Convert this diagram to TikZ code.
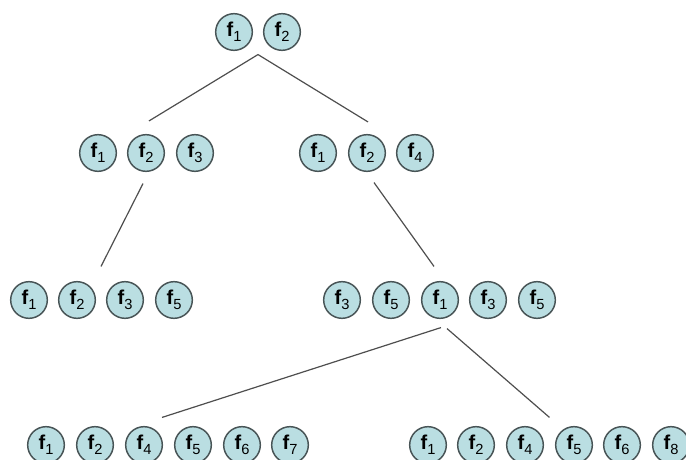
\documentclass[tikz,border=0pt]{standalone}
\usepackage{fontspec}
\setmainfont{Liberation Sans}
\usetikzlibrary{calc}

\definecolor{featfill}{RGB}{186,222,226}
\definecolor{featline}{RGB}{72,84,86}
\definecolor{edgeline}{RGB}{78,78,78}

% feature label: bold f with its index
\newcommand{\feat}[1]{{\fontsize{15}{15}\selectfont\bfseries f}\raisebox{-0.7ex}{\fontsize{11}{11}\selectfont #1}}

\tikzset{
	featnode/.style={circle, draw=featline, line width=1.1pt, fill=featfill,
		minimum size=27.5pt, inner sep=0pt},
	edge/.style={draw=edgeline, line width=0.9pt}
}

\begin{document}
\begin{tikzpicture}[x=0.75pt, y=-0.75pt]
		\useasboundingbox (0,0) rectangle (686,460);

		% root
		\node[featnode] (a1) at (234,32) {\feat{1}};
		\node[featnode] (a2) at (282,32) {\feat{2}};

		% second level
		\node[featnode] (b1) at ( 98,153) {\feat{1}};
		\node[featnode] (b2) at (146,153) {\feat{2}};
		\node[featnode] (b3) at (195,153) {\feat{3}};

		\node[featnode] (c1) at (318,153) {\feat{1}};
		\node[featnode] (c2) at (367,153) {\feat{2}};
		\node[featnode] (c3) at (415,153) {\feat{4}};

		% third level
		\node[featnode] (d1) at ( 29,300) {\feat{1}};
		\node[featnode] (d2) at ( 77,300) {\feat{2}};
		\node[featnode] (d3) at (125,300) {\feat{3}};
		\node[featnode] (d4) at (174,300) {\feat{5}};

		\node[featnode] (e1) at (342,300) {\feat{3}};
		\node[featnode] (e2) at (391,300) {\feat{5}};
		\node[featnode] (e3) at (440,300) {\feat{1}};
		\node[featnode] (e4) at (488,300) {\feat{3}};
		\node[featnode] (e5) at (537,300) {\feat{5}};

		% leaves
		\node[featnode] (g1) at ( 46,445) {\feat{1}};
		\node[featnode] (g2) at ( 95,445) {\feat{2}};
		\node[featnode] (g3) at (144,445) {\feat{4}};
		\node[featnode] (g4) at (193,445) {\feat{5}};
		\node[featnode] (g5) at (242,445) {\feat{6}};
		\node[featnode] (g6) at (290,445) {\feat{7}};

		\node[featnode] (h1) at (428,445) {\feat{1}};
		\node[featnode] (h2) at (476,445) {\feat{2}};
		\node[featnode] (h3) at (525,445) {\feat{4}};
		\node[featnode] (h4) at (574,445) {\feat{5}};
		\node[featnode] (h5) at (622,445) {\feat{6}};
		\node[featnode] (h6) at (671,445) {\feat{8}};

		% branches
		\coordinate (top) at ($(a1.south)!.5!(a2.south)+(0,3.5)$);
		\draw[edge] ([shift={(3,-13)}]b2.north) -- (top) -- ([shift={(1,-12)}]c2.north);
		\draw[edge] ([shift={(-3,11.5)}]b2.south) -- ($(d2.north)!.5!(d3.north)+(0,-14.5)$);
		\draw[edge] ([shift={(7,10.5)}]c2.south) -- ([shift={(-6,-14.5)}]e3.north);
		\draw[edge] ([shift={(1,8.5)}]e3.south) -- ([shift={(18,-8.5)}]g3.north);
		\draw[edge] ([shift={(7,9.5)}]e3.south) -- ($(h3.north)!.5!(h4.north)+(0,-8.5)$);
	\end{tikzpicture}
\end{document}
